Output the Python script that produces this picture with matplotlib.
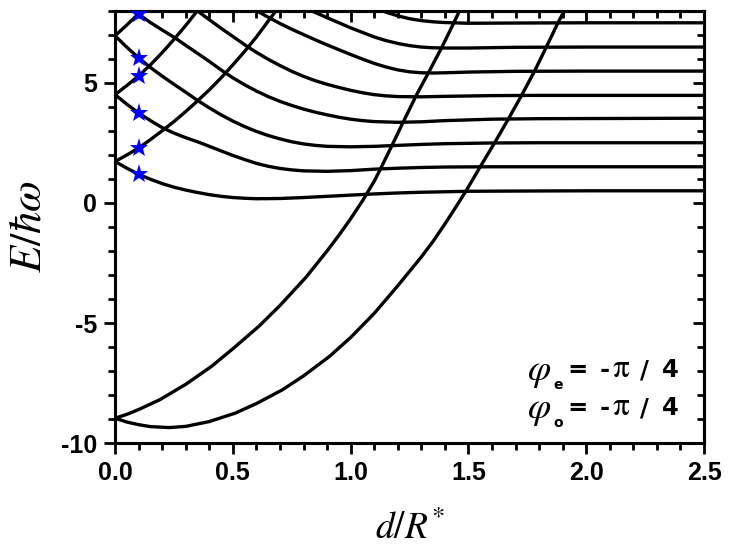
import matplotlib
matplotlib.use('Agg')
import matplotlib.pyplot as plt
from matplotlib.ticker import MultipleLocator

# levels that fall and flatten out
a_x = [0, 0.05, 0.1, 0.15, 0.2, 0.25, 0.3, 0.35, 0.4, 0.45, 0.5, 0.55, 0.6, 0.7, 0.8, 0.9, 1.0, 1.1, 1.2, 1.3, 1.4, 1.5, 1.7, 2.0, 2.5]
a_y = [1.72, 1.44, 1.19, 0.98, 0.80, 0.65, 0.53, 0.43, 0.34, 0.27, 0.22, 0.19, 0.17, 0.18, 0.22, 0.27, 0.32, 0.37, 0.41, 0.44, 0.46, 0.48, 0.49, 0.5, 0.5]

b_x = [0, 0.05, 0.1, 0.15, 0.2, 0.25, 0.3, 0.35, 0.4, 0.45, 0.5, 0.55, 0.6, 0.65, 0.7, 0.75, 0.8, 0.9, 1.0, 1.1, 1.2, 1.3, 1.4, 1.6, 2.5]
b_y = [4.5, 4.1, 3.74, 3.42, 3.13, 2.9, 2.71, 2.54, 2.35, 2.16, 1.97, 1.80, 1.64, 1.52, 1.43, 1.37, 1.33, 1.31, 1.34, 1.40, 1.44, 1.47, 1.49, 1.5, 1.5]

c_x = [0, 0.05, 0.1, 0.15, 0.2, 0.25, 0.3, 0.35, 0.4, 0.45, 0.5, 0.55, 0.6, 0.65, 0.7, 0.75, 0.8, 0.85, 0.9, 1.0, 1.1, 1.2, 1.3, 1.4, 1.6, 1.8, 2.5]
c_y = [6.95, 6.47, 6.03, 5.63, 5.27, 4.93, 4.6, 4.26, 3.95, 3.66, 3.4, 3.17, 2.97, 2.8, 2.66, 2.54, 2.45, 2.39, 2.35, 2.33, 2.35, 2.39, 2.43, 2.46, 2.49, 2.5, 2.5]

d_x = [0.077, 0.1, 0.15, 0.2, 0.255, 0.3, 0.35, 0.4, 0.46, 0.5, 0.55, 0.6, 0.65, 0.7, 0.75, 0.8, 0.85, 0.9, 0.95, 1.0, 1.05, 1.1, 1.2, 1.3, 1.4, 1.6, 1.8, 2.5]
d_y = [8.05, 7.85, 7.5, 7.19, 6.86, 6.55, 6.22, 5.88, 5.46, 5.2, 4.91, 4.65, 4.42, 4.22, 4.05, 3.9, 3.77, 3.66, 3.56, 3.48, 3.42, 3.38, 3.35, 3.37, 3.42, 3.48, 3.5, 3.52]

e_x = [0.34, 0.4, 0.45, 0.5, 0.56, 0.6, 0.65, 0.7, 0.75, 0.8, 0.85, 0.9, 0.95, 1.0, 1.05, 1.1, 1.15, 1.2, 1.3, 1.4, 1.6, 1.8, 2.5]
e_y = [8.05, 7.62, 7.26, 6.92, 6.51, 6.26, 5.97, 5.71, 5.47, 5.26, 5.08, 4.93, 4.8, 4.68, 4.58, 4.5, 4.45, 4.42, 4.41, 4.43, 4.46, 4.47, 4.47]

f_x = [0.59, 0.65, 0.7, 0.75, 0.8, 0.85, 0.9, 0.95, 1.0, 1.05, 1.1, 1.15, 1.2, 1.25, 1.3, 1.35, 1.4, 1.5, 1.7, 2.0, 2.5]
f_y = [8.05, 7.72, 7.46, 7.22, 7.0, 6.78, 6.57, 6.37, 6.17, 5.98, 5.8, 5.65, 5.53, 5.45, 5.41, 5.4, 5.41, 5.44, 5.47, 5.48, 5.48]

g_x = [0.82, 0.9, 0.95, 1.0, 1.05, 1.1, 1.15, 1.2, 1.25, 1.3, 1.35, 1.4, 1.5, 1.7, 2.0, 2.5]
g_y = [8.05, 7.7, 7.49, 7.28, 7.09, 6.9, 6.75, 6.63, 6.54, 6.48, 6.45, 6.44, 6.44, 6.47, 6.48, 6.48]

h_x = [1.12, 1.15, 1.2, 1.25, 1.3, 1.35, 1.4, 1.5, 1.7, 2.0, 2.5]
h_y = [8.05, 7.93, 7.78, 7.66, 7.58, 7.53, 7.5, 7.47, 7.48, 7.49, 7.49]

# levels that rise out of the frame
r1_x = [0, 0.05, 0.1, 0.12]
r1_y = [6.95, 7.4, 7.87, 8.06]

r2_x = [0, 0.05, 0.1, 0.15, 0.2, 0.25, 0.3, 0.35, 0.36]
r2_y = [4.5, 4.88, 5.28, 5.74, 6.25, 6.8, 7.38, 8.0, 8.1]

r3_x = [0, 0.05, 0.1, 0.15, 0.2, 0.25, 0.3, 0.35, 0.4, 0.45, 0.5, 0.55, 0.6, 0.65, 0.69]
r3_y = [1.72, 1.99, 2.28, 2.63, 3.0, 3.38, 3.8, 4.24, 4.7, 5.2, 5.74, 6.3, 6.9, 7.56, 8.08]

r4_x = [0, 0.05, 0.1, 0.19, 0.3, 0.41, 0.5, 0.61, 0.7, 0.81, 0.9, 0.95, 1.0, 1.05, 1.1, 1.125, 1.175, 1.225, 1.28, 1.335, 1.387, 1.436, 1.465]
r4_y = [-8.96, -8.8, -8.6, -8.19, -7.55, -6.8, -6.07, -5.14, -4.27, -3.1, -2.0, -1.35, -0.66, 0.08, 0.9, 1.38, 2.38, 3.4, 4.5, 5.5, 6.47, 7.45, 8.05]

r5_x = [0, 0.05, 0.1, 0.15, 0.23, 0.3, 0.4, 0.51, 0.6, 0.71, 0.8, 0.91, 1.0, 1.1, 1.2, 1.3, 1.35, 1.4, 1.45, 1.49, 1.55, 1.61, 1.67, 1.725, 1.78, 1.83, 1.88, 1.91]
r5_y = [-8.96, -9.12, -9.23, -9.31, -9.35, -9.3, -9.1, -8.75, -8.35, -7.78, -7.2, -6.39, -5.6, -4.6, -3.45, -2.25, -1.6, -0.88, -0.12, 0.5, 1.5, 2.48, 3.5, 4.46, 5.47, 6.47, 7.49, 8.05]

curves = [(a_x, a_y), (b_x, b_y), (c_x, c_y), (d_x, d_y), (e_x, e_y), (f_x, f_y),
          (g_x, g_y), (h_x, h_y), (r1_x, r1_y), (r2_x, r2_y), (r3_x, r3_y),
          (r4_x, r4_y), (r5_x, r5_y)]

star_x = [0.1, 0.1, 0.1, 0.1, 0.1, 0.1]
star_y = [1.19, 2.28, 3.74, 5.28, 6.03, 7.85]

# annotation pieces: (text, left edge px, font size) on the first line
phi_subs = ['e', 'o']
rhs_parts = [('=', 567, 17.5), ('-', 600, 17.5), (r'$\mathrm{\pi}$', 612, 24), ('/', 640, 17.5), ('4', 662, 17.5)]

plt.rcParams['axes.unicode_minus'] = False
plt.rcParams['font.family'] = ['Liberation Sans', 'DejaVu Sans']

W, H = 733, 554
fig = plt.figure(figsize=(W / 100, H / 100), dpi=100)
ax = fig.add_axes([0.157, 0.2, 0.8035, 0.781])

for xs, ys in curves:
    ax.plot(xs, ys, color='black', lw=2.4, solid_capstyle='butt', solid_joinstyle='round')
ax.plot(star_x, star_y, ls='none', marker='*', ms=14, mew=0, color='#0000ff', zorder=5)

ax.set_xlim(0, 2.5)
ax.set_ylim(-10, 8)
ax.xaxis.set_major_locator(MultipleLocator(0.5))
ax.xaxis.set_minor_locator(MultipleLocator(0.1))
ax.yaxis.set_major_locator(MultipleLocator(5))
ax.yaxis.set_minor_locator(MultipleLocator(1))
ax.tick_params(which='both', direction='out', width=2, labelsize=18, pad=5)
ax.tick_params(which='major', length=8)
ax.tick_params(which='minor', length=5)
for lab in ax.get_xticklabels() + ax.get_yticklabels():
    lab.set_fontweight('bold')
for sp in ax.spines.values():
    sp.set_linewidth(2.2)

# mirrored ticks on top and right point inwards
top = ax.secondary_xaxis('top')
top.xaxis.set_major_locator(MultipleLocator(0.5))
top.xaxis.set_minor_locator(MultipleLocator(0.1))
top.tick_params(which='both', direction='in', width=2, labeltop=False)
top.tick_params(which='major', length=8)
top.tick_params(which='minor', length=5)
top.spines['top'].set_linewidth(2.2)
right = ax.secondary_yaxis('right')
right.yaxis.set_major_locator(MultipleLocator(5))
right.yaxis.set_minor_locator(MultipleLocator(1))
right.tick_params(which='both', direction='in', width=2, labelright=False)
right.tick_params(which='major', length=8)
right.tick_params(which='minor', length=5)
right.spines['right'].set_linewidth(2.2)

ax.set_xlabel(r'$d/R^{*}$', fontsize=27, math_fontfamily='stix', labelpad=18)
ax.set_ylabel(r'$E/\hbar\omega$', fontsize=32, math_fontfamily='stix', labelpad=8)

for i, sub in enumerate(phi_subs):
    dy = 38 * i
    fig.text(527 / W, 1 - (380 + dy) / H, r'$\varphi$', fontsize=27,
             math_fontfamily='stix', va='baseline')
    fig.text(553 / W, 1 - (389 + dy) / H, sub, fontsize=10, fontweight='bold',
             family='DejaVu Sans', va='baseline')
    for s, x0, fs in rhs_parts:
        fig.text(x0 / W, 1 - (377 + dy) / H, s, fontsize=fs, fontweight='bold',
                 family='DejaVu Sans', math_fontfamily='stix', va='baseline')

fig.savefig('out.png', dpi=100)
